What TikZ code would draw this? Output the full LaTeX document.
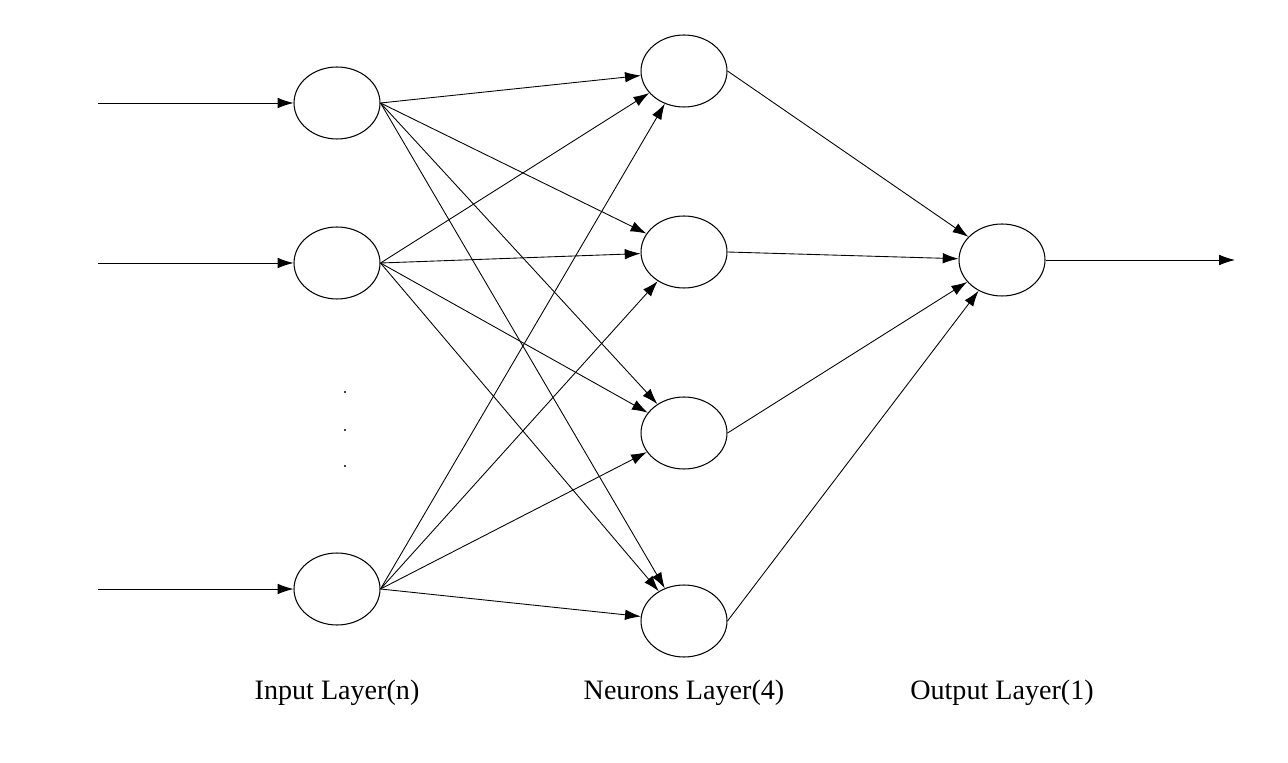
\documentclass[tikz,border=0pt]{standalone}
\usepackage{fontspec}
\setmainfont{Liberation Serif}
\usetikzlibrary{shapes.geometric,arrows.meta}
\begin{document}
\begin{tikzpicture}[x=0.02cm,y=-0.02cm]
\tikzset{neuron/.style={draw,ellipse,minimum width=1.72cm,minimum height=1.44cm,line width=0.6pt},
 conn/.style={line width=0.5pt,-{Latex[length=9pt,width=6pt]}},
 layerlabel/.style={font=\fontsize{16}{19}\selectfont}}
\useasboundingbox (0,0) rectangle (1288,763);
% input layer
\node [neuron] (i1) at (337,103) {};
\node [neuron] (i2) at (337,263) {};
\node [neuron] (i3) at (337,589) {};
\foreach \y in {392,430,466} \fill (345,\y) circle (1.2);
% neurons layer
\node [neuron] (h1) at (684,71) {};
\node [neuron] (h2) at (684,252) {};
\node [neuron] (h3) at (684,433) {};
\node [neuron] (h4) at (684,621) {};
% output layer
\node [neuron] (o) at (1002,260) {};
\coordinate (in1) at (98,103);
\coordinate (in2) at (98,263);
\coordinate (in3) at (98,589);
\coordinate (out) at (1235,260);
\foreach \k in {1,2,3} \draw [conn] (in\k) -- (i\k);
\foreach \a in {1,2,3}
  \foreach \b in {1,2,3,4}
    \draw [conn] (i\a.east) -- (h\b);
\foreach \b in {1,2,3,4} \draw [conn] (h\b.east) -- (o);
\draw [conn] (o) -- (out);
\node [layerlabel] (li) at (337,693) {Input Layer(n)};
\node [layerlabel] (lh) at (684,693) {Neurons Layer(4)};
\node [layerlabel] (lo) at (1002,693) {Output Layer(1)};
\end{tikzpicture}
\end{document}
